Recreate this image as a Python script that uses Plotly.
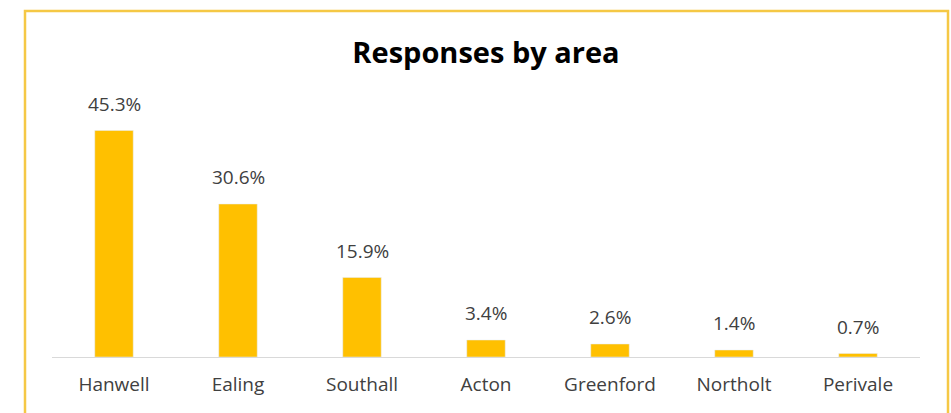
import plotly.graph_objects as go

areas = ["Hanwell", "Ealing", "Southall", "Acton", "Greenford", "Northolt", "Perivale"]
shares = [45.3, 30.6, 15.9, 3.4, 2.6, 1.4, 0.7]
labels = [f"{v:.1f}%" for v in shares]

W, H = 951, 413
L, R, T, B = 52, 31, 107, 56
pw, ph = W - L - R, H - T - B

def px_x(x):
    return (x - L) / pw

def px_y(y):
    return (H - B - y) / ph

fig = go.Figure()
fig.add_trace(go.Bar(
    x=areas, y=shares, marker_color="#FFC000", width=0.31,
    hoverinfo="x+y",
))

for a, v, t in zip(areas, shares, labels):
    fig.add_annotation(x=a, y=v, text=t, showarrow=False, yanchor="bottom",
                       yshift=12, font=dict(family="Open Sans", size=19, color="#404040"))

fig.add_shape(type="rect", xref="paper", yref="paper",
              x0=px_x(25), x1=px_x(948), y0=px_y(11), y1=px_y(430),
              line=dict(color="#F5C845", width=2.5), layer="below")

fig.update_layout(
    width=W, height=H,
    margin=dict(l=L, r=R, t=T, b=B),
    paper_bgcolor="white", plot_bgcolor="white",
    showlegend=False,
    title=dict(text="<b>Responses by area</b>", x=px_x(486), xref="paper", xanchor="center",
               y=1 - 53 / H, yanchor="middle",
               font=dict(family="Open Sans", size=29, color="#000000")),
    xaxis=dict(showline=True, linecolor="#D9D9D9", linewidth=1, ticks="outside",
               ticklen=10, tickcolor="rgba(0,0,0,0)",
               tickfont=dict(family="Open Sans", size=19, color="#404040"),
               showgrid=False, fixedrange=True),
    yaxis=dict(range=[0, 50], visible=False, showgrid=False, fixedrange=True),
)

fig.write_html("out.html", config={"displayModeBar": False},
               post_script="document.body.style.margin='0';document.body.style.overflow='hidden';")
